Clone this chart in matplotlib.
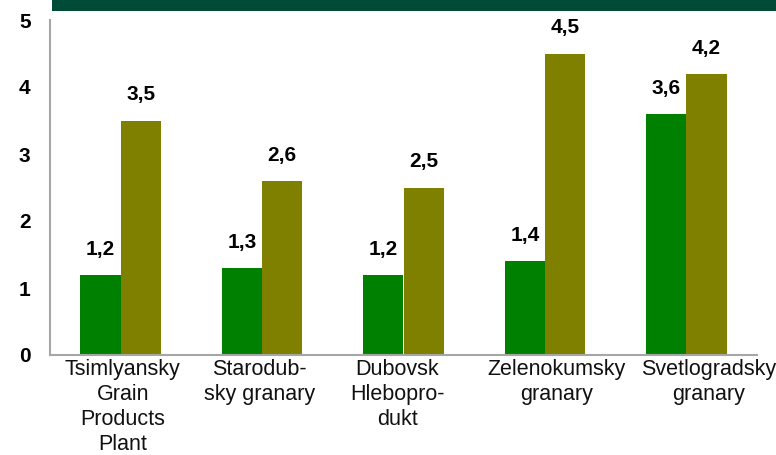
import numpy as np
import matplotlib.pyplot as plt
import matplotlib.patches as patches
import matplotlib.transforms as mtransforms

plt.rcParams['font.family'] = ['Liberation Sans', 'DejaVu Sans']

# data
categories = ['Tsimlyansky\nGrain\nProducts\nPlant', 'Starodub-\nsky granary',
              'Dubovsk\nHlebopro-\ndukt', 'Zelenokumsky\ngranary', 'Svetlogradsky\ngranary']
series_a = [1.2, 1.3, 1.2, 1.4, 3.6]
series_b = [3.5, 2.6, 2.5, 4.5, 4.2]
yticks = [0, 1, 2, 3, 4, 5]

# horizontal nudges (px) of the category labels, as placed in the original
label_shift = [2, -3, -6, 12, 22]

fig = plt.figure(figsize=(7.76, 4.55), dpi=100)
ax = fig.add_axes([50/776, 100/455, 707/776, 335/455])

x = np.arange(len(categories))
w = 0.285
bars_a = ax.bar(x - w/2, series_a, w, color='#008000')
bars_b = ax.bar(x + w/2, series_b, w, color='#808000')

for bars, vals in ((bars_a, series_a), (bars_b, series_b)):
    for b, v in zip(bars, vals):
        ax.text(b.get_x() + b.get_width()/2, v + 0.24, f'{v:.1f}'.replace('.', ','),
                ha='center', va='bottom', fontsize=15, fontweight='bold')

ax.set_xlim(-0.5, len(categories) - 0.5)
ax.set_ylim(0, 5)
ax.set_yticks(yticks)
ax.set_yticklabels([str(t) for t in yticks], fontsize=15, fontweight='bold')
ax.set_xticks(x)
ax.set_xticklabels(categories, fontsize=15.5, linespacing=1.25, va='top', color='#111111')
ax.tick_params(axis='both', length=0)
ax.tick_params(axis='y', pad=14)
ax.tick_params(axis='x', pad=3)

for lbl, dx in zip(ax.get_xticklabels(), label_shift):
    lbl.set_transform(lbl.get_transform() +
                      mtransforms.ScaledTranslation(dx/100, 0, fig.dpi_scale_trans))

for s in ('top', 'right'):
    ax.spines[s].set_visible(False)
for s in ('left', 'bottom'):
    ax.spines[s].set_color('#a6a6a6')
    ax.spines[s].set_linewidth(1.5)

# dark band along the top
fig.add_artist(patches.Rectangle((52/776, 444/455), 1 - 52/776, 11/455,
                                 transform=fig.transFigure, color='#004b36', lw=0))

fig.savefig('out.png', dpi=100)
